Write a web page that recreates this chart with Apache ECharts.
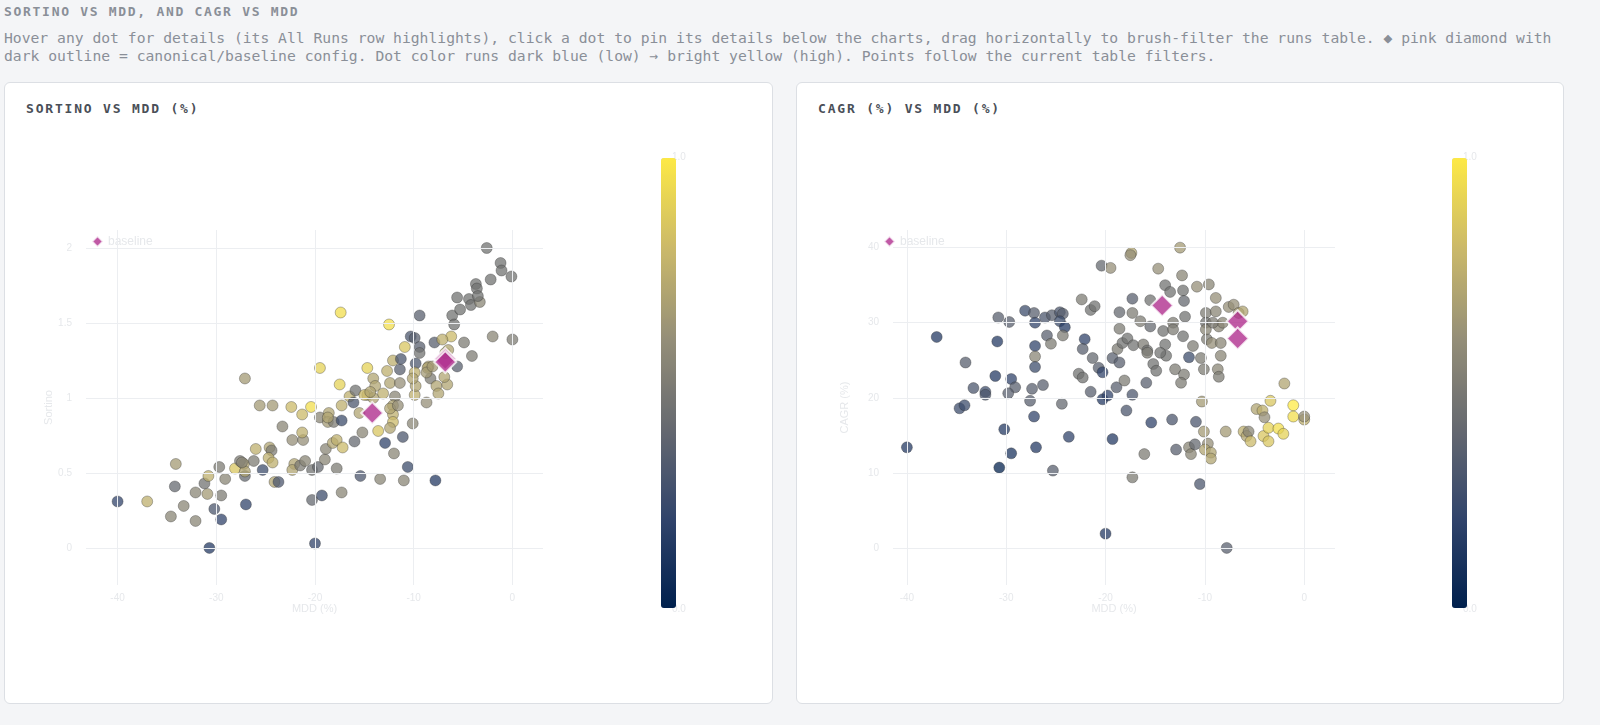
<!DOCTYPE html>
<html><head><meta charset="utf-8">
<script src="https://cdn.jsdelivr.net/npm/echarts@6/dist/echarts.min.js"></script>
<style>
html,body{margin:0;padding:0;background:#f4f5f7;overflow:hidden;font-family:"DejaVu Sans Mono",monospace;width:1600px;height:725px;}
#h1{position:absolute;left:4px;top:4px;font-size:13px;font-weight:bold;color:#8a8f98;letter-spacing:1.7px;}
#desc{position:absolute;left:4px;top:29px;width:1555px;font-size:14.7px;line-height:18px;color:#8a8f98;}
.card{position:absolute;top:82px;height:620px;background:#fff;border:1px solid #dcdfe4;border-radius:6px;}
.ct{position:absolute;top:101px;font-size:13px;font-weight:bold;color:#4a4f58;letter-spacing:1.8px;}
#chart{position:absolute;left:0;top:0;width:1600px;height:725px;}
</style></head><body>
<div id="h1">SORTINO VS MDD, AND CAGR VS MDD</div>
<div id="desc">Hover any dot for details (its All Runs row highlights), click a dot to pin its details below the charts, drag horizontally to brush-filter the runs table. ◆ pink diamond with dark outline = canonical/baseline config. Dot color runs dark blue (low) → bright yellow (high). Points follow the current table filters.</div>
<div class="card" style="left:4px;width:767px"></div>
<div class="card" style="left:796px;width:766px"></div>
<div class="ct" style="left:26px">SORTINO VS MDD (%)</div>
<div class="ct" style="left:818px">CAGR (%) VS MDD (%)</div>
<div id="chart"></div>
<script>
const xTicks=[-40,-30,-20,-10,0];
const sortinoTicks=[0,0.5,1,1.5,2];
const cagrTicks=[0,10,20,30,40];
// [MDD %, Sortino, colour value]
const sortinoRuns=[
[-40,0.31,0.2],[-37.0,0.31,0.75],[-34.2,0.41,0.4],[-34.1,0.56,0.65],[-34.6,0.21,0.55],[-33.3,0.28,0.55],[-32.1,0.18,0.55],[-32.1,0.37,0.55],
[-31.2,0.43,0.45],[-30.8,0.48,0.75],[-30.9,0.36,0.65],[-30.2,0.26,0.3],[-29.5,0.19,0.2],[-30.7,0.0,0.15],[-29.5,0.35,0.5],[-29.7,0.54,0.5],
[-29.1,0.46,0.55],[-28.1,0.53,0.85],[-27.2,0.56,0.7],[-27.1,0.48,0.4],[-27.0,0.29,0.2],[-27.6,0.58,0.5],[-26.2,0.58,0.5],[-27.1,1.13,0.65],
[-26.0,0.66,0.75],[-25.6,0.95,0.65],[-24.3,0.95,0.65],[-24.6,0.67,0.7],[-24.4,0.65,0.5],[-24.7,0.6,0.75],[-24.3,0.57,0.75],[-25.3,0.52,0.25],
[-23.3,0.81,0.55],[-24.1,0.44,0.7],[-23.7,0.44,0.3],[-22.4,0.94,0.8],[-22.3,0.72,0.6],[-21.3,0.89,0.8],[-21.2,0.72,0.6],[-21.3,0.77,0.75],
[-22.1,0.56,0.7],[-22.3,0.52,0.7],[-21.5,0.55,0.5],[-20.4,0.94,0.95],[-20.3,0.32,0.4],[-19.3,0.35,0.25],[-21.0,0.58,0.55],[-20.3,0.52,0.45],
[-19.7,0.54,0.4],[-19.5,1.2,0.9],[-19.5,0.87,0.55],[-18.6,0.9,0.7],[-18.7,0.84,0.65],[-18.1,0.84,0.5],[-19.0,0.59,0.55],[-18.9,0.66,0.55],
[-18.2,0.7,0.7],[-17.8,0.72,0.75],[-17.8,0.53,0.5],[-17.3,0.37,0.55],[-17.4,1.57,0.95],[-17.5,1.09,0.9],[-17.3,0.95,0.75],[-17.3,0.85,0.25],
[-17.2,0.67,0.8],[-16.5,1.01,0.75],[-16.1,0.97,0.3],[-15.9,1.05,0.45],[-15.5,0.9,0.7],[-16.0,0.71,0.4],[-15.2,0.77,0.55],[-15.4,0.48,0.3],
[-14.7,1.2,0.9],[-14.7,1.02,0.75],[-14.1,1.13,0.7],[-13.9,1.08,0.7],[-14.1,1.0,0.7],[-13.6,0.78,0.85],[-13.4,0.46,0.55],[-12.9,0.7,0.2],
[-12.7,1.18,0.75],[-12.5,1.49,0.95],[-12.4,1.1,0.7],[-12.1,1.25,0.75],[-11.9,1.01,0.55],[-12.1,0.95,0.7],[-12.1,0.89,0.75],[-12.1,0.84,0.8],
[-12.4,0.8,0.7],[-12.0,0.63,0.55],[-11.4,1.19,0.35],[-11.3,1.26,0.3],[-11.4,1.1,0.6],[-11.1,0.74,0.3],[-10.9,1.34,0.85],[-10.6,0.54,0.25],
[-11.0,0.45,0.55],[-10.1,0.83,0.55],[-10.3,1.41,0.3],[-9.9,1.4,0.35],[-9.8,1.23,0.3],[-9.9,1.17,0.75],[-9.9,1.02,0.75],[-9.8,1.08,0.7],
[-9.4,1.34,0.35],[-9.4,1.3,0.45],[-9.4,1.55,0.35],[-8.7,0.97,0.6],[-7.8,0.45,0.15],[-7.9,1.37,0.35],[-8.5,1.21,0.7],[-8.3,1.13,0.5],
[-7.7,1.08,0.7],[-7.5,1.03,0.7],[-6.8,1.3,0.75],[-6.2,1.41,0.8],[-6.6,1.09,0.7],[-6.9,1.14,0.7],[-5.6,1.21,0.35],[-6.1,1.55,0.45],
[-5.9,1.49,0.45],[-5.6,1.67,0.45],[-5.3,1.59,0.45],[-4.9,1.37,0.5],[-4.1,1.28,0.5],[-4.4,1.66,0.45],[-4.2,1.62,0.45],[-3.3,1.64,0.55],
[-3.7,1.76,0.45],[-3.6,1.73,0.45],[-3.5,1.68,0.45],[-2.6,2.0,0.45],[-2.2,1.79,0.45],[-1.2,1.9,0.45],[-1.1,1.85,0.45],[-0.1,1.81,0.45],
[-2.0,1.41,0.55],[0.0,1.39,0.5],[-20.0,0.03,0.2],[-8.6,1.2,0.7],[-8.7,1.17,0.65],[-12.4,0.93,0.7],[-13.1,1.03,0.75],[-15.0,1.02,0.8],
[-14.4,1.04,0.7],[-11.6,0.95,0.6],[-10.1,1.13,0.7],[-8.1,1.21,0.65],[-7.1,1.39,0.75],[-6.5,1.32,0.7],[-18.7,0.87,0.7],[-27.1,0.51,0.7],[-27.4,0.57,0.55]
];
const sortinoBaseline=[[-14.2,0.9],[-6.8,1.26],[-6.8,1.24]];
// [MDD %, CAGR %, colour value]
const cagrRuns=[
[-40,13.4,0.15],[-37.0,28.1,0.15],[-34.1,24.7,0.35],[-33.3,21.3,0.3],[-32.1,20.8,0.25],[-32.1,20.4,0.3],[-34.7,18.6,0.25],[-34.2,19.0,0.25],
[-30.8,30.7,0.35],[-29.7,30.1,0.35],[-30.9,27.5,0.15],[-31.1,22.9,0.15],[-29.5,22.5,0.2],[-29.1,21.4,0.35],[-29.8,20.6,0.35],[-30.2,15.8,0.15],
[-29.5,12.6,0.12],[-30.7,10.7,0.02],[-28.1,31.6,0.25],[-27.2,31.3,0.35],[-27.1,30.0,0.2],[-27.1,26.9,0.2],[-27.1,25.5,0.55],[-27.1,24.1,0.25],
[-27.4,21.2,0.35],[-27.6,19.6,0.35],[-27.2,17.5,0.2],[-27.0,13.4,0.15],[-26.3,21.7,0.35],[-26.1,30.7,0.3],[-25.4,31.0,0.35],[-24.6,31.4,0.3],
[-24.3,31.2,0.35],[-24.6,30.2,0.25],[-24.1,29.4,0.15],[-25.9,28.3,0.35],[-25.5,27.2,0.5],[-24.3,28.3,0.5],[-25.3,10.3,0.35],[-24.4,19.2,0.4],
[-23.7,14.8,0.2],[-22.4,33.1,0.5],[-21.5,31.7,0.45],[-21.1,32.2,0.45],[-22.1,27.8,0.2],[-22.3,26.5,0.35],[-21.3,25.3,0.4],[-22.7,23.2,0.45],
[-22.3,22.7,0.45],[-21.5,20.8,0.35],[-20.7,24.0,0.35],[-20.3,23.4,0.2],[-20.3,19.8,0.15],[-19.8,20.3,0.2],[-20.4,37.6,0.4],[-19.5,37.3,0.6],
[-19.3,25.3,0.35],[-18.6,24.7,0.35],[-18.9,21.4,0.35],[-19.3,14.5,0.15],[-20.0,1.9,0.15],[-18.6,29.2,0.5],[-18.6,31.4,0.4],[-18.8,26.5,0.5],
[-18.1,22.3,0.5],[-17.9,18.3,0.3],[-17.3,9.4,0.5],[-17.3,33.2,0.35],[-17.3,31.3,0.5],[-17.3,20.4,0.3],[-17.4,39.3,0.7],[-17.5,39.0,0.6],
[-18.3,27.3,0.45],[-17.8,27.9,0.45],[-17.2,27.0,0.45],[-16.5,30.2,0.5],[-16.2,27.1,0.5],[-15.9,22.0,0.35],[-16.1,12.5,0.5],[-15.8,26.3,0.45],
[-15.5,29.5,0.4],[-15.5,33.0,0.45],[-15.4,16.7,0.2],[-15.2,24.5,0.45],[-14.9,23.6,0.45],[-14.7,37.2,0.6],[-14.2,28.9,0.45],[-14.0,35.0,0.45],
[-14.0,27.1,0.45],[-13.9,25.6,0.45],[-13.5,34.1,0.45],[-13.2,30.0,0.5],[-13.2,29.1,0.5],[-13.3,17.1,0.3],[-13.0,23.8,0.5],[-12.9,13.1,0.35],
[-12.5,40.0,0.65],[-12.3,36.3,0.55],[-12.2,34.3,0.45],[-12.1,32.9,0.4],[-12.0,30.8,0.45],[-12.2,28.2,0.45],[-12.1,23.1,0.5],[-12.4,22.0,0.5],
[-11.6,25.4,0.25],[-11.6,13.4,0.55],[-11.4,12.5,0.55],[-11.2,26.9,0.5],[-11.0,13.8,0.4],[-10.9,16.8,0.3],[-10.8,34.8,0.6],[-10.3,19.5,0.65],
[-10.5,8.5,0.3],[-10.4,25.3,0.5],[-10.1,23.8,0.5],[-10.1,15.5,0.65],[-9.9,31.3,0.5],[-9.9,30.0,0.45],[-9.8,27.8,0.5],[-9.7,13.9,0.6],
[-9.6,35.1,0.55],[-10.0,13.1,0.7],[-9.4,12.7,0.7],[-9.4,11.9,0.7],[-9.3,27.3,0.6],[-8.9,31.5,0.55],[-8.9,33.3,0.6],[-8.7,23.8,0.55],
[-8.6,22.8,0.5],[-8.4,25.6,0.55],[-8.4,27.3,0.55],[-8.6,29.5,0.55],[-7.9,15.5,0.65],[-7.8,0.0,0.35],[-7.6,32.1,0.6],[-7.1,32.4,0.6],
[-6.6,31.3,0.65],[-6.2,31.5,0.7],[-6.1,15.5,0.75],[-5.8,14.9,0.7],[-5.6,15.5,0.55],[-5.4,14.2,0.8],[-4.8,18.5,0.7],[-4.2,18.3,0.75],
[-4.0,17.4,0.6],[-4.1,14.9,0.85],[-3.6,16.0,0.9],[-3.6,14.2,0.85],[-3.4,19.6,0.85],[-2.6,15.9,0.95],[-2.1,15.2,0.9],[-2.0,21.9,0.7],
[-1.1,19.0,1.0],[-1.1,17.5,0.95],[0.0,17.1,0.75],[0.0,17.5,0.6],[-15.8,26.0,0.5],[-14.5,26.0,0.45],[-9.9,29.1,0.55],[-8.2,30.0,0.55],[-9.2,30.0,0.5]
];
const cagrBaseline=[[-14.3,32.3],[-6.7,30.2],[-6.7,27.9]];

const faint='#e6e8eb';
const colors=['#00204d','#31446b','#666970','#958f78','#cbb969','#fde945'];
function grid(left,right){return {left:left,right:right,top:230,bottom:140};}
function axes(i,yTicks,ymin,ymax,xmin,xmax,yname){
  return {
    x:{type:'value',gridIndex:i,min:xmin,max:xmax,name:'MDD (%)',nameLocation:'middle',nameGap:18,
       nameTextStyle:{color:faint,fontSize:11},axisLine:{show:false},axisTick:{show:false},splitLine:{show:false},
       axisLabel:{color:faint,fontSize:10,formatter:v=>xTicks.includes(v)?String(v):''}},
    y:{type:'value',gridIndex:i,min:ymin,max:ymax,name:yname,nameLocation:'middle',nameGap:i?43:8,nameRotate:90,
       nameTextStyle:{color:faint,fontSize:11},axisLine:{show:false},axisTick:{show:false},splitLine:{show:false},
       axisLabel:{color:faint,fontSize:10,margin:14,formatter:v=>yTicks.includes(v)?String(v):''}}
  };
}
const a0=axes(0,sortinoTicks,-0.247,2.12,-43.2,3.1,'Sortino');
const a1=axes(1,cagrTicks,-4.94,42.35,-41.4,3.1,'CAGR (%)');
function gridLines(i,yTicks){
  return {type:'scatter',xAxisIndex:i,yAxisIndex:i,data:[],silent:true,z:1,
    markLine:{silent:true,symbol:'none',animation:false,label:{show:false},
      lineStyle:{color:'#eceef1',width:1,type:'solid'},
      data:xTicks.map(v=>({xAxis:v})).concat(yTicks.map(v=>({yAxis:v})))}};
}
function dots(i,d){
  return {type:'scatter',xAxisIndex:i,yAxisIndex:i,data:d,symbolSize:11,z:3,
    itemStyle:{opacity:0.75,borderColor:'rgba(40,40,40,0.55)',borderWidth:0.8}};
}
function base(i,d){
  return {name:'baseline',type:'scatter',xAxisIndex:i,yAxisIndex:i,data:d,symbol:'diamond',symbolSize:22,z:5,
    itemStyle:{color:'#b0308f',borderColor:'#ffffff',borderWidth:2}};
}
function vm(i,left){
  return {type:'continuous',seriesIndex:i,dimension:2,min:0,max:1,calculable:false,left:left,top:143,
    itemWidth:15,itemHeight:450,text:null,showLabel:false,inRange:{color:colors}};
}
function cbText(x,y,t){return {type:'text',left:x,top:y,style:{text:t,fill:faint,font:'10px sans-serif'}};}
const chart=echarts.init(document.getElementById('chart'),null,{renderer:'canvas'});
chart.setOption({
  backgroundColor:'transparent',animation:false,
  grid:[grid(86,1057),grid(893,265)],
  xAxis:[a0.x,a1.x],yAxis:[a0.y,a1.y],
  legend:[{data:[{name:'baseline',icon:'diamond'}],left:86,top:230,itemWidth:11,itemHeight:11,textStyle:{color:faint}},
          {data:[{name:'baseline',icon:'diamond'}],left:878,top:230,itemWidth:11,itemHeight:11,textStyle:{color:faint}}],
  visualMap:[vm(1,646),vm(4,1437)],
  graphic:[cbText(672,152,'1.0'),cbText(672,604,'0.0'),cbText(1463,152,'1.0'),cbText(1463,604,'0.0')],
  series:[gridLines(0,sortinoTicks),dots(0,sortinoRuns),base(0,sortinoBaseline),
          gridLines(1,cagrTicks),dots(1,cagrRuns),base(1,cagrBaseline)]
});
</script></body></html>
